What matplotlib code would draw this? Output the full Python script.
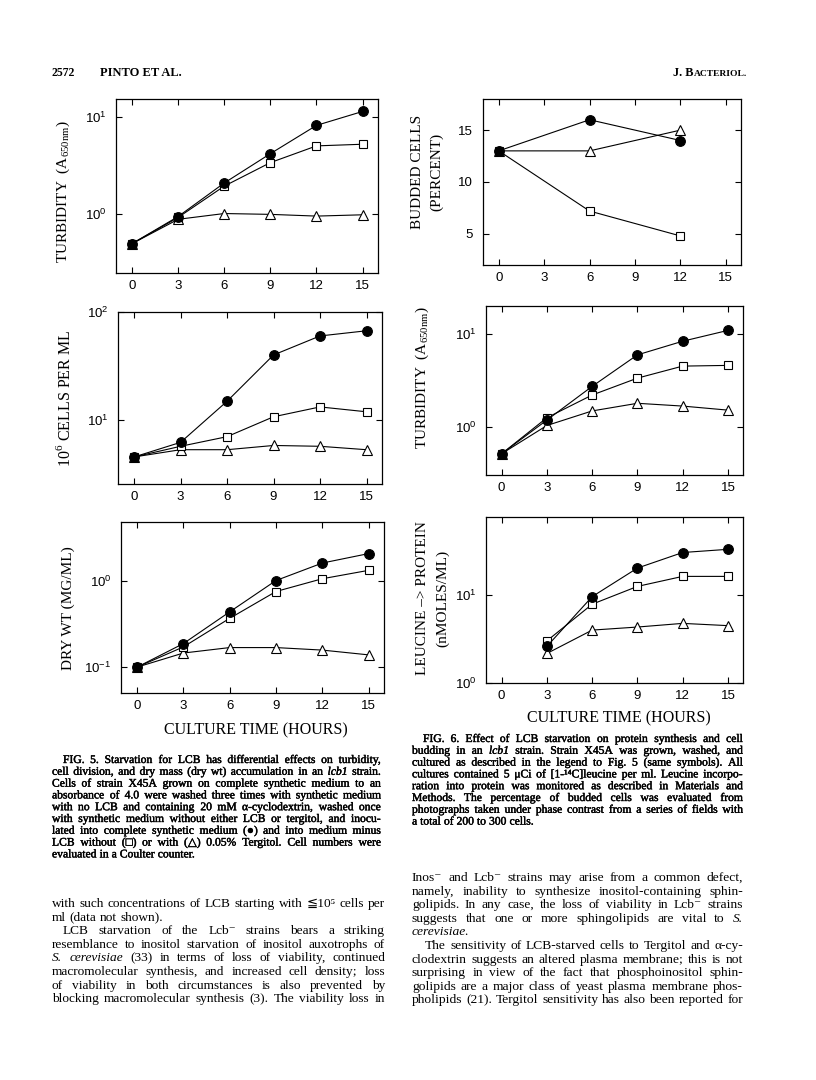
import matplotlib.pyplot as plt
import matplotlib.patheffects as pe
from matplotlib.ticker import NullLocator

plt.rcParams['mathtext.fontset'] = 'custom'
plt.rcParams['mathtext.rm'] = 'Liberation Serif'

W, H = 816, 1080
SERIF = ['Liberation Serif', 'DejaVu Serif', 'DejaVu Sans']
HEAVY = [pe.withStroke(linewidth=0.3, foreground='black')]

# ---- data ----
hours = [0, 3, 6, 9, 12, 15]

# Fig 5: turbidity (A650)
turb5_full = [0.50, 0.95, 2.1, 4.2, 8.2, 11.4]
turb5_minus = [0.50, 0.93, 1.95, 3.4, 5.05, 5.25]
turb5_terg = [0.50, 0.89, 1.02, 1.0, 0.96, 0.99]

# Fig 5: 10^6 cells per ml
cells5_full = [4.54, 6.2, 14.9, 40, 60, 67]
cells5_minus = [4.54, 5.7, 7.0, 10.7, 13.2, 11.9]
cells5_terg = [4.54, 5.3, 5.3, 5.8, 5.7, 5.3]

# Fig 5: dry wt (mg/ml)
dry5_full = [0.10, 0.188, 0.44, 1.02, 1.63, 2.1]
dry5_minus = [0.10, 0.172, 0.37, 0.76, 1.07, 1.34]
dry5_terg = [0.10, 0.146, 0.169, 0.169, 0.158, 0.139]

# Fig 6: budded cells (percent)
bud_hours = [0, 6, 12]
bud6_full = [13, 16, 14]
bud6_minus = [13, 7.2, 4.8]
bud6_terg = [13, 13, 15]

# Fig 6: turbidity (A650)
turb6_full = [0.51, 1.18, 2.73, 5.98, 8.4, 11.0]
turb6_minus = [0.51, 1.25, 2.2, 3.35, 4.52, 4.6]
turb6_terg = [0.51, 1.03, 1.48, 1.79, 1.67, 1.51]

# Fig 6: leucine -> protein (nmoles/ml)
leu_hours = [3, 6, 9, 12, 15]
leu6_full = [2.6, 9.5, 20, 30, 32.6]
leu6_minus = [3.0, 7.8, 12.4, 16.1, 16.1]
leu6_terg = [2.16, 3.97, 4.3, 4.73, 4.46]

fig = plt.figure(figsize=(W / 100, H / 100), dpi=100)
renderer = fig.canvas.get_renderer()


def box(x0, y0, x1, y1):
    return [x0 / W, 1 - y1 / H, (x1 - x0) / W, (y1 - y0) / H]


def panel(rect, ylim, yticks, log=True):
    ax = fig.add_axes(box(*rect))
    if log:
        ax.set_yscale('log')
    ax.set_xlim(-1.04, 16.0)
    ax.set_ylim(ylim)
    ax.set_xticks(hours)
    ax.set_yticks(yticks)
    ax.yaxis.set_minor_locator(NullLocator())
    ax.xaxis.set_minor_locator(NullLocator())
    ax.tick_params(direction='in', top=True, right=True, length=4, width=0.8,
                   labelsize=9.5, labelfontfamily='Liberation Sans')
    ax.tick_params(axis='x', pad=5)
    ax.tick_params(axis='y', pad=7)
    for s in ax.spines.values():
        s.set_linewidth(0.9)
    return ax


def curves(ax, x, full, minus, terg):
    kw = dict(color='black', lw=0.8, mec='black', mew=0.8)
    ax.plot(x, terg, marker='^', ms=6.5, mfc='white', **kw)
    ax.plot(x, minus, marker='s', ms=5.5, mfc='white', **kw)
    ax.plot(x, full, marker='o', ms=7, mfc='black', **kw)


def ptext(x, y, s, **kw):
    kw.setdefault('family', SERIF)
    return fig.text(x / W, 1 - y / H, s, **kw)


def vlabel(x, y, s, size=11):
    ptext(x, y, s, rotation=90, ha='center', va='center', fontsize=size)


def line(s, x0, x1, yb, size, heavy=False, justify=True):
    objs = []
    for w in s.split():
        it = w.startswith('*')
        w = w.strip('*')
        t = ptext(x0, yb, w, fontsize=size, va='baseline',
                  style='italic' if it else 'normal')
        if heavy:
            t.set_path_effects(HEAVY)
        objs.append(t)
    ws = [t.get_window_extent(renderer).width for t in objs]
    if justify and len(objs) > 1:
        gap = (x1 - x0 - sum(ws)) / (len(objs) - 1)
    else:
        gap = size * 0.25 * 100 / 72
    x = x0
    for t, w in zip(objs, ws):
        t.set_x(x / W)
        x += w + gap


def fit_size(lines, x0, x1, indent, cap):
    # largest size at which the tightest justified line still fits
    s0 = 10
    best = cap
    for s in lines:
        if s.endswith('|'):
            continue
        ind = indent if s.startswith('>') else 0
        t = ptext(0, 0, s.lstrip('>').replace('*', ''), fontsize=s0)
        w = t.get_window_extent(renderer).width
        t.remove()
        best = min(best, 0.985 * s0 * (x1 - x0 - ind) / w)
    return best


def paragraph(lines, x0, x1, y0, step, cap, heavy=False, indent=11, scale=1.0):
    # '>' = indented first line, trailing '|' = last line, not justified
    size = fit_size(lines, x0, x1, indent, cap) * scale
    for i, s in enumerate(lines):
        xs = x0
        if s.startswith('>'):
            s = s[1:]
            xs = x0 + indent
        just = not s.endswith('|')
        line(s.rstrip('|'), xs, x1, y0 + i * step, size, heavy, just)


# ---- Fig 5 panels ----
ax = panel((116, 99, 378, 273), (0.25, 15.3), [1, 10])
curves(ax, hours, turb5_full, turb5_minus, turb5_terg)
ax = panel((118, 312, 382, 484), (2.55, 100), [10, 100])
curves(ax, hours, cells5_full, cells5_minus, cells5_terg)
ax = panel((121, 522, 384, 693), (0.05, 4.9), [0.1, 1])
curves(ax, hours, dry5_full, dry5_minus, dry5_terg)

# ---- Fig 6 panels ----
ax = panel((483, 99, 741, 265), (2, 18), [5, 10, 15], log=False)
curves(ax, bud_hours, bud6_full, bud6_minus, bud6_terg)
ax = panel((486, 306, 743, 475), (0.30, 20.2), [1, 10])
curves(ax, hours, turb6_full, turb6_minus, turb6_terg)
ax = panel((486, 517, 743, 683), (1, 75.7), [1, 10])
curves(ax, leu_hours, leu6_full, leu6_minus, leu6_terg)

# axis labels
vlabel(63, 192, r'TURBIDITY  (A$_{\mathdefault{650nm}}$)')
vlabel(65, 398, r'10$^{\mathdefault{6}}$ CELLS PER ML', 11.5)
vlabel(68, 608, 'DRY WT (MG/ML)')
vlabel(418, 172, 'BUDDED CELLS')
vlabel(437, 172, '(PERCENT)')
vlabel(422, 378, r'TURBIDITY  (A$_{\mathdefault{650nm}}$)')
vlabel(422, 598, 'LEUCINE –> PROTEIN')
vlabel(443, 598, '(nMOLES/ML)')
ptext(256, 730, 'CULTURE TIME (HOURS)', ha='center', va='center', fontsize=11.5)
ptext(619, 718, 'CULTURE TIME (HOURS)', ha='center', va='center', fontsize=11.5)

# running head
ptext(52, 76, '2572', fontsize=8.5, weight='bold', va='baseline')
ptext(100, 76, 'PINTO ET AL.', fontsize=9, weight='bold', va='baseline')
t = ptext(673, 76, 'J. B', fontsize=8.8, weight='bold', va='baseline')
wj = t.get_window_extent(renderer).width
ptext(673 + wj, 76, 'ACTERIOL.', fontsize=6.8, weight='bold', va='baseline')

# captions
cap5 = [
    '>FIG. 5. Starvation for LCB has differential effects on turbidity,',
    'cell division, and dry mass (dry wt) accumulation in an *lcb1* strain.',
    'Cells of strain X45A grown on complete synthetic medium to an',
    'absorbance of 4.0 were washed three times with synthetic medium',
    'with no LCB and containing 20 mM α-cyclodextrin, washed once',
    'with synthetic medium without either LCB or tergitol, and inocu-',
    'lated into complete synthetic medium (●) and into medium minus',
    'LCB without (□) or with (△) 0.05% Tergitol. Cell numbers were',
    'evaluated in a Coulter counter.|',
]
paragraph(cap5, 52, 381, 763, 11.8, 9.5, heavy=True, scale=0.96)

cap6 = [
    '>FIG. 6. Effect of LCB starvation on protein synthesis and cell',
    'budding in an *lcb1* strain. Strain X45A was grown, washed, and',
    'cultured as described in the legend to Fig. 5 (same symbols). All',
    'cultures contained 5 μCi of [1-¹⁴C]leucine per ml. Leucine incorpo-',
    'ration into protein was monitored as described in Materials and',
    'Methods. The percentage of budded cells was evaluated from',
    'photographs taken under phase contrast from a series of fields with',
    'a total of 200 to 300 cells.|',
]
paragraph(cap6, 412, 743, 742, 11.8, 9.5, heavy=True, scale=0.96)

# body text
body_left = [
    'with such concentrations of LCB starting with ≦10⁵ cells per',
    'ml (data not shown).|',
    '>LCB starvation of the Lcb⁻ strains bears a striking',
    'resemblance to inositol starvation of inositol auxotrophs of',
    '*S.* *cerevisiae* (33) in terms of loss of viability, continued',
    'macromolecular synthesis, and increased cell density; loss',
    'of viability in both circumstances is also prevented by',
    'blocking macromolecular synthesis (3). The viability loss in',
]
paragraph(body_left, 52, 385, 907, 13.6, 10.8)

body_right = [
    'Inos⁻ and Lcb⁻ strains may arise from a common defect,',
    'namely, inability to synthesize inositol-containing sphin-',
    'golipids. In any case, the loss of viability in Lcb⁻ strains',
    'suggests that one or more sphingolipids are vital to *S.*',
    '*cerevisiae.*|',
    '>The sensitivity of LCB-starved cells to Tergitol and α-cy-',
    'clodextrin suggests an altered plasma membrane; this is not',
    'surprising in view of the fact that phosphoinositol sphin-',
    'golipids are a major class of yeast plasma membrane phos-',
    'pholipids (21). Tergitol sensitivity has also been reported for',
]
paragraph(body_right, 412, 743, 881, 13.6, 10.8, indent=13)

fig.savefig('out.png', dpi=100)
